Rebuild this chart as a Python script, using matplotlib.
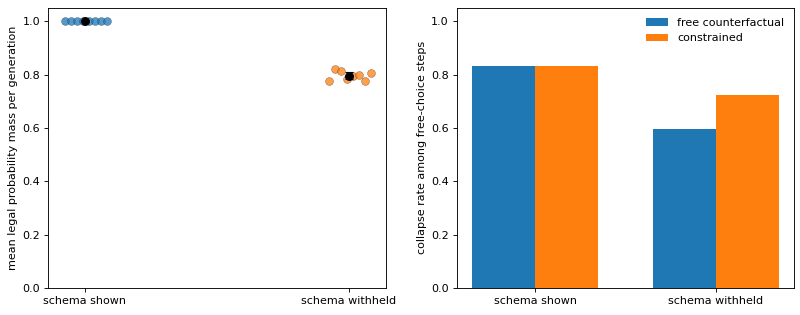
import numpy as np
import matplotlib
matplotlib.use("Agg")
import matplotlib.pyplot as plt

conditions = ["schema shown", "schema withheld"]
shown_mass = [1.0, 1.0, 1.0, 1.0, 1.0, 1.0, 1.0, 1.0]
withheld_mass = [0.777, 0.820, 0.812, 0.784, 0.794, 0.799, 0.777, 0.805]
jitter = [-0.076, -0.053, -0.030, -0.007, 0.015, 0.038, 0.061, 0.084]

series_names = ["free counterfactual", "constrained"]
free_rate = [0.831, 0.595]
constrained_rate = [0.831, 0.722]

fig, (ax1, ax2) = plt.subplots(1, 2, figsize=(10, 3.9375), dpi=80)

for i, (vals, col) in enumerate(zip([shown_mass, withheld_mass], ["C0", "C1"])):
    xs = [i + j for j in jitter]
    ax1.scatter(xs, vals, s=50, color=col, alpha=0.75, edgecolors="#5a3a1a" if i == 1 else "#1a3a5a",
                linewidths=0.4, zorder=2)
    m = np.mean(vals)
    sd = np.std(vals, ddof=1) / np.sqrt(len(vals)) * 2.5 if i == 1 else 0
    ax1.errorbar([i], [m], yerr=[sd], fmt="o", color="black", capsize=4, markersize=7, zorder=3)

ax1.set_xticks([0, 1])
ax1.set_xticklabels(conditions)
ax1.set_xlim(-0.14, 1.14)
ax1.set_ylim(0, 1.05)
ax1.set_ylabel("mean legal probability mass per generation")

x = np.arange(len(conditions))
w = 0.35
ax2.bar(x - w / 2, free_rate, w, label=series_names[0], color="C0")
ax2.bar(x + w / 2, constrained_rate, w, label=series_names[1], color="C1")
ax2.set_xticks(x)
ax2.set_xticklabels(conditions)
ax2.set_ylim(0, 1.05)
ax2.set_ylabel("collapse rate among free-choice steps")
ax2.legend(frameon=False, loc="upper right")

fig.subplots_adjust(left=0.06, right=0.993, bottom=0.086, top=0.975, wspace=0.21)
fig.savefig("out.png", dpi=80)
